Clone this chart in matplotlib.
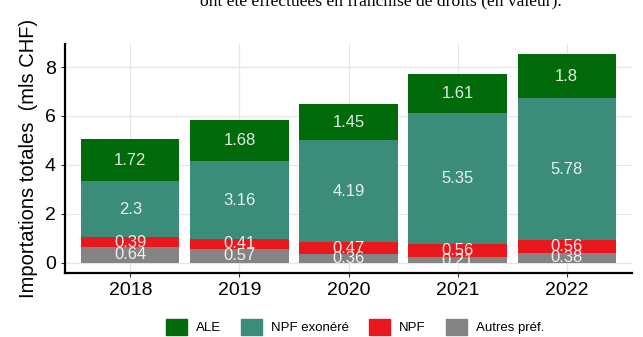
import numpy as np
import matplotlib
matplotlib.use("Agg")
import matplotlib.pyplot as plt
from matplotlib.patches import Patch

plt.rcParams["font.family"] = ["Liberation Sans", "DejaVu Sans"]

# Importations par régime tarifaire (mls CHF)
annees = ["2018", "2019", "2020", "2021", "2022"]
autres_pref = [0.64, 0.57, 0.36, 0.21, 0.38]
npf = [0.39, 0.41, 0.47, 0.56, 0.56]
npf_exonere = [2.3, 3.16, 4.19, 5.35, 5.78]
ale = [1.72, 1.68, 1.45, 1.61, 1.8]

series = [
    ("Autres préf.", autres_pref, "#848484"),
    ("NPF", npf, "#e8181c"),
    ("NPF exonéré", npf_exonere, "#3b8d79"),
    ("ALE", ale, "#016b0c"),
]

fig = plt.figure(figsize=(6.43, 3.37), dpi=100)
ax = fig.add_axes([65 / 643, 64 / 337, 567 / 643, 229 / 337])

x = np.arange(1, len(annees) + 1)
bas = np.zeros(len(annees))
for nom, vals, couleur in series:
    vals = np.array(vals)
    ax.bar(x, vals, width=0.9, bottom=bas, color=couleur, zorder=2)
    for xi, b, v in zip(x, bas, vals):
        ax.text(xi, b + v / 2, f"{v:g}", ha="center", va="center",
                color="white", alpha=0.88, fontsize=12, zorder=3)
    bas += vals

total_max = bas.max()
ax.set_xlim(0.4, len(annees) + 0.6)
ax.set_ylim(-0.05 * total_max, total_max * 1.05)
ax.set_xticks(x)
ax.set_xticklabels(annees)
ax.set_yticks([0, 2, 4, 6, 8])
ax.tick_params(axis="both", labelsize=14, length=3, color="#333333")
ax.set_ylabel("Importations totales  (mls CHF)", fontsize=14.5, labelpad=5)

for s in ["top", "right"]:
    ax.spines[s].set_visible(False)
for s in ["left", "bottom"]:
    ax.spines[s].set_linewidth(1.6)
    ax.spines[s].set_color("black")
ax.grid(True, color="#e6e6e6", linewidth=0.9, zorder=0)
ax.set_axisbelow(True)

# Légende en bas, ordre ALE -> Autres préf.
handles = [Patch(color=c, label=n) for n, _, c in series[::-1]]
fig.legend(handles=handles, loc="center", bbox_to_anchor=(355 / 643, 1 - 327 / 337),
           ncol=4, frameon=False, fontsize=9.5, handlelength=1.6, handleheight=1.5,
           columnspacing=1.5, handletextpad=0.7)

# Ligne du texte courant au-dessus du graphique
fig.text(381 / 643, 1 - 5 / 337, "ont été effectuées en franchise de droits (en valeur).",
         ha="center", va="baseline", fontsize=12.6, family="Liberation Serif")

fig.savefig("out.png", dpi=100)
